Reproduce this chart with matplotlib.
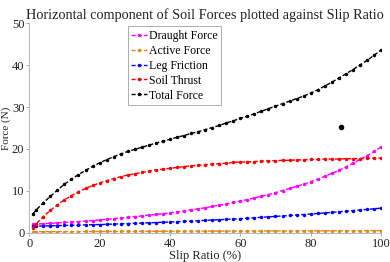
import matplotlib
matplotlib.use("Agg")
import matplotlib.pyplot as plt

slip = [1, 2, 4, 6, 8, 10, 12, 14, 16, 18, 20, 22, 24, 26, 28, 30, 32, 34, 36, 38, 40,
        42, 44, 46, 48, 50, 52, 54, 56, 58, 60, 62, 64, 66, 68, 70, 72, 74, 76, 78, 80,
        82, 84, 86, 88, 90, 92, 94, 96, 98, 100]

draught = [2.05, 2.1, 2.2, 2.3, 2.4, 2.5, 2.6, 2.7, 2.85, 2.95, 3.1, 3.25, 3.4, 3.55, 3.7, 3.9,
           4.05, 4.25, 4.4, 4.6, 4.8, 5.0, 5.25, 5.5, 5.75, 6.0, 6.3, 6.6, 6.9, 7.25, 7.6,
           7.95, 8.35, 8.75, 9.15, 9.6, 10.1, 10.6, 11.1, 11.6, 12.2, 12.8, 13.5, 14.2, 14.9,
           15.7, 16.6, 17.5, 18.4, 19.4, 20.5]

active = [0.30, 0.30, 0.31, 0.31, 0.32, 0.32, 0.33, 0.33, 0.34, 0.34, 0.35, 0.35, 0.36, 0.36,
          0.37, 0.37, 0.38, 0.38, 0.39, 0.39, 0.40, 0.40, 0.41, 0.41, 0.42, 0.42, 0.43, 0.43,
          0.44, 0.44, 0.45, 0.45, 0.46, 0.46, 0.47, 0.47, 0.48, 0.48, 0.49, 0.49, 0.50, 0.50,
          0.51, 0.51, 0.52, 0.52, 0.53, 0.53, 0.54, 0.55, 0.55]

leg_friction = [1.6, 1.62, 1.65, 1.7, 1.74, 1.78, 1.83, 1.87, 1.92, 1.96, 2.0, 2.05, 2.11, 2.17,
                2.23, 2.29, 2.36, 2.42, 2.48, 2.54, 2.6, 2.68, 2.75, 2.83, 2.91, 2.99, 3.07,
                3.15, 3.23, 3.32, 3.4, 3.5, 3.61, 3.72, 3.83, 3.94, 4.05, 4.16, 4.27, 4.38, 4.5,
                4.63, 4.76, 4.9, 5.04, 5.18, 5.32, 5.46, 5.6, 5.75, 5.9]

soil_thrust = [1.2, 2.2, 3.9, 5.4, 6.7, 7.9, 8.9, 9.8, 10.6, 11.3, 11.9, 12.45, 12.95, 13.4, 13.8,
               14.1, 14.4, 14.7, 15.0, 15.2, 15.4, 15.6, 15.8, 16.0, 16.1, 16.3, 16.4, 16.5,
               16.6, 16.8, 16.9, 16.9, 17.0, 17.1, 17.2, 17.2, 17.3, 17.3, 17.4, 17.4, 17.5,
               17.5, 17.6, 17.6, 17.6, 17.7, 17.7, 17.7, 17.8, 17.8, 17.8]

total = [4.5, 5.5, 7.2, 8.7, 10.2, 11.6, 12.8, 13.9, 14.9, 15.85, 16.7, 17.45, 18.15, 18.8, 19.4,
         19.9, 20.4, 20.9, 21.4, 21.85, 22.3, 22.8, 23.2, 23.7, 24.1, 24.6, 25.1, 25.6, 26.2,
         26.7, 27.3, 27.8, 28.4, 29.0, 29.6, 30.2, 30.8, 31.4, 32.0, 32.6, 33.3, 34.1, 35.0,
         35.9, 36.9, 37.9, 38.9, 40.0, 41.1, 42.3, 43.6]

outlier_x = [88.5]
outlier_y = [25.2]

series = [
    ("Draught Force", draught, "#ff00ff"),
    ("Active Force", active, "#e08a1e"),
    ("Leg Friction", leg_friction, "#0000ff"),
    ("Soil Thrust", soil_thrust, "#ff0000"),
    ("Total Force", total, "#000000"),
]

plt.rcParams['font.family'] = ['Liberation Serif', 'DejaVu Serif']

fig = plt.figure(figsize=(3.9, 2.62), dpi=100)
ax = fig.add_axes([0.075, 0.111, 0.902, 0.801])

for name, vals, col in series:
    ax.plot(slip, vals, linestyle=(0, (3, 1.5)), color=col, marker='.', markersize=3,
            linewidth=1.0, label=name)
ax.plot(outlier_x, outlier_y, linestyle='none', marker='.', color='black', markersize=6)

ax.set_xlim(0, 100)
ax.set_ylim(0, 50)
ax.set_xticks([0, 20, 40, 60, 80, 100])
ax.set_yticks([0, 10, 20, 30, 40, 50])
ax.tick_params(labelsize=9, colors='#222222', length=2.5, width=0.6, pad=1,
               color='#999999')
for s in ['top', 'right']:
    ax.spines[s].set_visible(False)
for s in ['left', 'bottom']:
    ax.spines[s].set_color('#bbbbbb')
    ax.spines[s].set_linewidth(0.8)

ax.set_title("Horizontal component of Soil Forces plotted against Slip Ratio",
             fontsize=10.3, pad=3, color='#222222')
ax.set_xlabel("Slip Ratio (%)", fontsize=9, labelpad=0, color='#222222')
ax.set_ylabel("Force (N)", fontsize=8, color='#222222')
ax.yaxis.set_label_coords(-0.051, 0.5)

leg = ax.legend(loc='upper left', bbox_to_anchor=(0.28, 0.985), fontsize=8.5,
                handlelength=1.3, handletextpad=0.2, borderpad=0.3, labelspacing=0.25,
                frameon=True, fancybox=False, borderaxespad=0)
leg.get_frame().set_edgecolor('#888888')
leg.get_frame().set_linewidth(0.6)

fig.savefig("out.png", dpi=100)
